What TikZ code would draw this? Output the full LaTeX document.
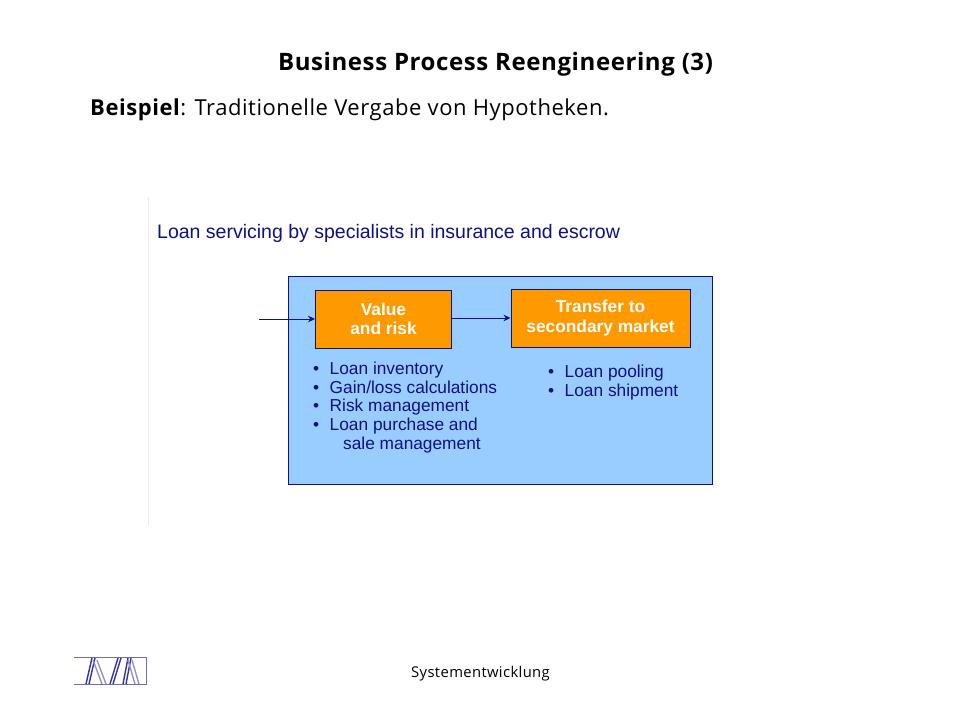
\documentclass[tikz,border=0pt]{standalone}
\usepackage{fontspec}
\setmainfont[LetterSpace=2.5]{Open Sans}
\newfontfamily\figfont{Liberation Sans}
\usetikzlibrary{positioning,arrows.meta}
\definecolor{figblue}{RGB}{15,15,135}
\definecolor{panelblue}{RGB}{153,204,255}
\definecolor{boxorange}{RGB}{255,153,0}
\tikzset{
	box/.style={draw=figblue,fill=boxorange,line width=1pt,inner sep=0pt,text=white,align=center,
		font=\figfont\bfseries\fontsize{17.3}{19.5}\selectfont},
	items/.style={text=figblue,anchor=north west,inner sep=0pt,align=left,
		font=\figfont\fontsize{17.3}{18.8}\selectfont},
	conn/.style={draw=figblue,line width=1pt,-{Stealth[length=7pt,width=6.5pt]}}
}
\begin{document}
\begin{tikzpicture}[x=1pt,y=-1pt]
		\useasboundingbox (0,0) rectangle (960,720);
		\def\bul{\textbullet\hspace{10.5pt}}
		% titel
		\node[inner sep=0pt,font=\bfseries\fontsize{24}{28}\selectfont] (title) at (495.5,64.5) {Business Process Reengineering (3)};
		\node[inner sep=0pt,anchor=west,font=\fontsize{22}{25}\selectfont] (sub) at (90,109.5) {\textbf{Beispiel}: Traditionelle Vergabe von Hypotheken.};
		% abbildung
		\draw[black!8,line width=1pt] (148.5,197) -- (148.5,525);
		\node[anchor=west,inner sep=0pt,text=figblue,font=\figfont\fontsize{19.5}{21}\selectfont] (head) at (157,233.5) {Loan servicing by specialists in insurance and escrow};
		\node[draw=figblue,fill=panelblue,line width=1pt,minimum width=424pt,minimum height=208pt,inner sep=0pt] (panel) at (500.5,380) {};
		\node[box,minimum width=136pt,minimum height=58pt] (value) at (383.5,319) {Value\\and risk};
		\node[box,minimum width=179pt,minimum height=58pt] (market) at (600.5,318) {\raisebox{-1.5pt}{Transfer to}\\\raisebox{-1.5pt}{secondary market}};
		\coordinate (start) at (259,319);
		\draw[conn] (start) -- (value);
		\draw[conn] (value.east |- market) -- (market);
		% listen
		\node[items] (left) at (313,361.5) {\bul Loan inventory\\\bul Gain/loss calculations\\\bul Risk management\\\bul Loan purchase and\\\hspace{30pt}sale management};
		\node[items] (right) at (548,364.5) {\bul Loan pooling\\\bul Loan shipment};
		% fuss
		\node[inner sep=0pt,font=\fontsize{14.8}{18}\selectfont] (foot) at (480.5,673.5) {Systementwicklung};
		% logo
		\draw[figblue!60,line width=1pt] (74,657.5) -- (146,657.5) -- (146,684.5) -- (74,684.5);
		\foreach \a/\b in {92/86,95/89,118/110,121/113,128/123,131/126}
			\draw[figblue!85,line width=1.4pt] (\a,658) -- (\b,684);
		\foreach \a/\b in {93/102,97/106,128/135,132/139}
			\draw[figblue!45,line width=1.4pt] (\a,660) -- (\b,684);
\end{tikzpicture}
\end{document}
